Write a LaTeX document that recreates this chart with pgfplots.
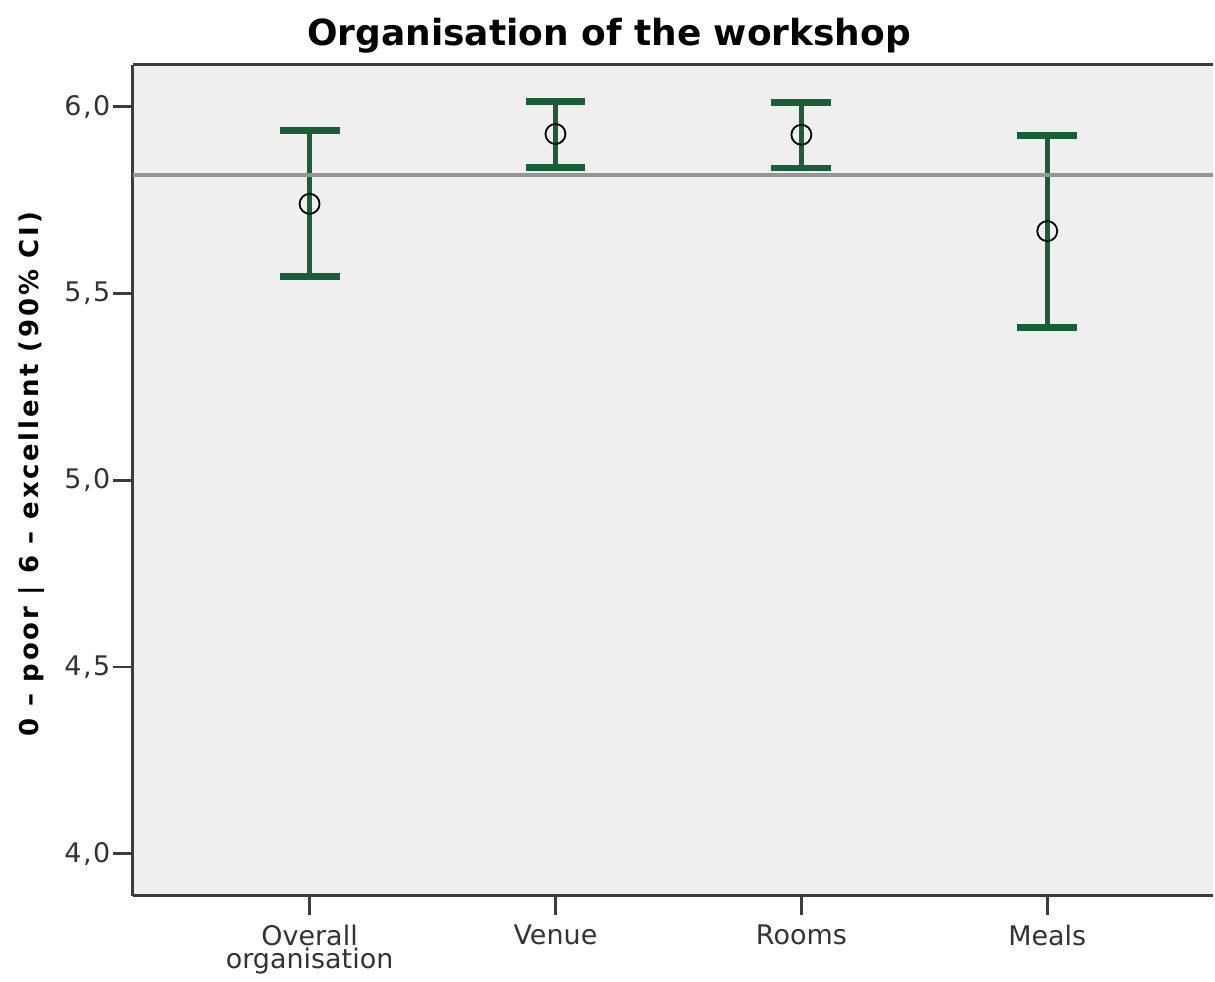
\documentclass[border=0pt]{standalone}
\usepackage{fontspec}
\setmainfont{DejaVu Sans}
\usepackage{pgfplots}
\usepackage{pgfplotstable}
\pgfplotsset{compat=1.18}

\definecolor{barGreen}{RGB}{24,94,54}
\definecolor{plotBg}{RGB}{239,239,239}
\definecolor{refGray}{RGB}{150,150,150}
\definecolor{axisGray}{RGB}{60,60,60}

% mean, upper and lower half width of the 90% CI
\pgfplotstableread{
x  y      ep     em
0  5.740  0.196  0.195
1  5.927  0.086  0.089
2  5.925  0.086  0.089
3  5.667  0.255  0.259
}\ratings

\begin{document}
\begin{tikzpicture}
\begin{axis}[
    name=ax,
    scale only axis,
    width=541pt, height=416pt,
    xmin=-0.719, xmax=3.674,
    ymin=3.888, ymax=6.112,
    axis background/.style={fill=plotBg},
    axis y line*=left,
    xtick pos=bottom,
    axis line style={axisGray, line width=1.4pt},
    tick style={axisGray, line width=1.4pt},
    tick align=outside,
    major tick length=10pt,
    xtick={0,1,2,3},
    xticklabels={Overall\\organisation, Venue, Rooms, Meals},
    xticklabel style={align=center, yshift=-1pt, font=\fontsize{13.5}{12}\selectfont, text=black!80},
    ytick={4,4.5,5,5.5,6},
    yticklabel style={inner xsep=1pt, font=\fontsize{13.5}{15}\selectfont\addfontfeatures{LetterSpace=6}, text=black!80},
    /pgf/number format/.cd, use comma, fixed, fixed zerofill, precision=1, assume math mode=true,
    /pgfplots/.cd,
    title={\bfseries Organisation of the workshop},
    title style={at={(0.441,1)}, anchor=base, yshift=3.5pt, font=\fontsize{18}{20}\selectfont},
    ylabel={\bfseries\addfontfeatures{LetterSpace=10.5}0 – poor | 6 – excellent (90\% CI)},
    ylabel style={at={(axis description cs:-0.094,0.507)}, anchor=center, font=\fontsize{13}{15}\selectfont},
    clip=false,
]
\addplot[
    only marks,
    mark=o, mark size=5pt,
    mark options={black, line width=0.9pt},
    error bars/.cd,
        y dir=both, y explicit,
        error bar style={barGreen, line width=2.6pt},
        error mark options={rotate=90, mark size=15pt, line width=3.4pt, barGreen},
] table[x=x, y=y, y error plus=ep, y error minus=em] {\ratings};
\addplot[refGray, line width=2pt] coordinates {(-0.719,5.816) (3.674,5.816)};
\end{axis}
\path ([xshift=-66.5pt, yshift=32.5pt]ax.north west) rectangle ([yshift=-41pt]ax.south east);
\end{tikzpicture}
\end{document}
